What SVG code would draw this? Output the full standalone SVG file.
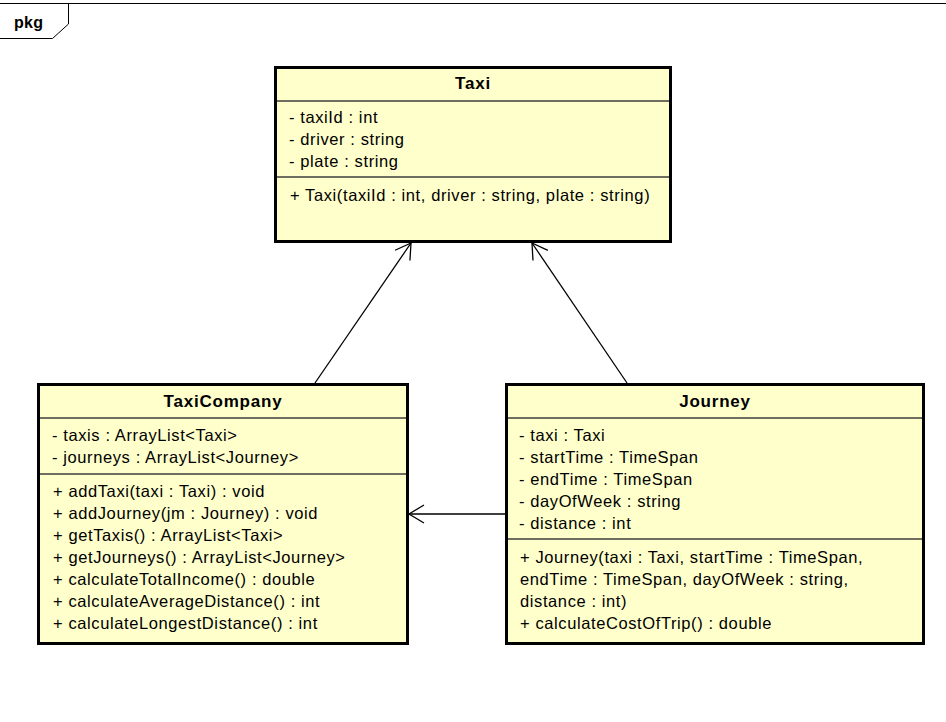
<svg xmlns="http://www.w3.org/2000/svg" width="946" height="722" viewBox="0 0 946 722">
<style>
.box{fill:#ffffcc;stroke:#000;stroke-width:3}
.sep{stroke:#3c3c3c;stroke-width:1.5}
.t{font-family:"Liberation Sans",Arial,sans-serif;font-size:16.5px;fill:#000;letter-spacing:0.6px}
.h{font-family:"Liberation Sans",Arial,sans-serif;font-size:17px;font-weight:bold;fill:#000;text-anchor:middle;letter-spacing:0.8px}
.c{stroke:#000;stroke-width:1.3;fill:none}
</style>
<defs>
<marker id="open" markerUnits="userSpaceOnUse" viewBox="-18 -11 20 22" markerWidth="20" markerHeight="22" refX="0" refY="0" orient="auto">
<path d="M -15 -9 L 0 0 L -15 9" fill="none" stroke="#000" stroke-width="1.3"/>
</marker>
</defs>
<rect width="946" height="722" fill="#fff"/>
<g id="frame">
<line x1="0" y1="3.5" x2="946" y2="3.5" stroke="#000" stroke-width="1"/>
<path d="M0 38.5 H52.5 L68.5 24 V3.5" fill="none" stroke="#000" stroke-width="1"/>
<text x="14" y="28" class="h" style="text-anchor:start;letter-spacing:0.3px;font-size:16px">pkg</text>
</g>
<g id="connectors">
<line class="c" x1="315" y1="383" x2="411" y2="243" marker-end="url(#open)"/>
<line class="c" x1="627" y1="383" x2="532" y2="243" marker-end="url(#open)"/>
<line class="c" x1="505" y1="514" x2="409" y2="514" marker-end="url(#open)"/>
</g>
<g id="Taxi">
<rect class="box" x="275.5" y="67.5" width="395" height="174"/>
<line class="sep" x1="277" y1="101" x2="669" y2="101"/>
<line class="sep" x1="277" y1="177" x2="669" y2="177"/>
<text class="h" x="473" y="89">Taxi</text>
<text class="t" x="289" y="123">- taxiId : int</text>
<text class="t" x="289" y="145">- driver : string</text>
<text class="t" x="289" y="167">- plate : string</text>
<text class="t" x="290" y="201">+ Taxi(taxiId : int, driver : string, plate : string)</text>
</g>
<g id="TaxiCompany">
<rect class="box" x="38.5" y="384.5" width="369" height="259"/>
<line class="sep" x1="40" y1="418" x2="406" y2="418"/>
<line class="sep" x1="40" y1="474" x2="406" y2="474"/>
<text class="h" x="223" y="407">TaxiCompany</text>
<text class="t" x="52" y="441">- taxis : ArrayList&lt;Taxi&gt;</text>
<text class="t" x="52" y="463">- journeys : ArrayList&lt;Journey&gt;</text>
<text class="t" x="53" y="497">+ addTaxi(taxi : Taxi) : void</text>
<text class="t" x="53" y="519">+ addJourney(jm : Journey) : void</text>
<text class="t" x="53" y="541">+ getTaxis() : ArrayList&lt;Taxi&gt;</text>
<text class="t" x="53" y="563">+ getJourneys() : ArrayList&lt;Journey&gt;</text>
<text class="t" x="53" y="585">+ calculateTotalIncome() : double</text>
<text class="t" x="53" y="607">+ calculateAverageDistance() : int</text>
<text class="t" x="53" y="629">+ calculateLongestDistance() : int</text>
</g>
<g id="Journey">
<rect class="box" x="506.5" y="384.5" width="417" height="259"/>
<line class="sep" x1="508" y1="418" x2="922" y2="418"/>
<line class="sep" x1="508" y1="539" x2="922" y2="539"/>
<text class="h" x="715" y="407">Journey</text>
<text class="t" x="519" y="441">- taxi : Taxi</text>
<text class="t" x="519" y="463">- startTime : TimeSpan</text>
<text class="t" x="519" y="485">- endTime : TimeSpan</text>
<text class="t" x="519" y="507">- dayOfWeek : string</text>
<text class="t" x="519" y="529">- distance : int</text>
<text class="t" x="520" y="563">+ Journey(taxi : Taxi, startTime : TimeSpan,</text>
<text class="t" x="520" y="585">endTime : TimeSpan, dayOfWeek : string,</text>
<text class="t" x="520" y="607">distance : int)</text>
<text class="t" x="520" y="629">+ calculateCostOfTrip() : double</text>
</g>
</svg>
